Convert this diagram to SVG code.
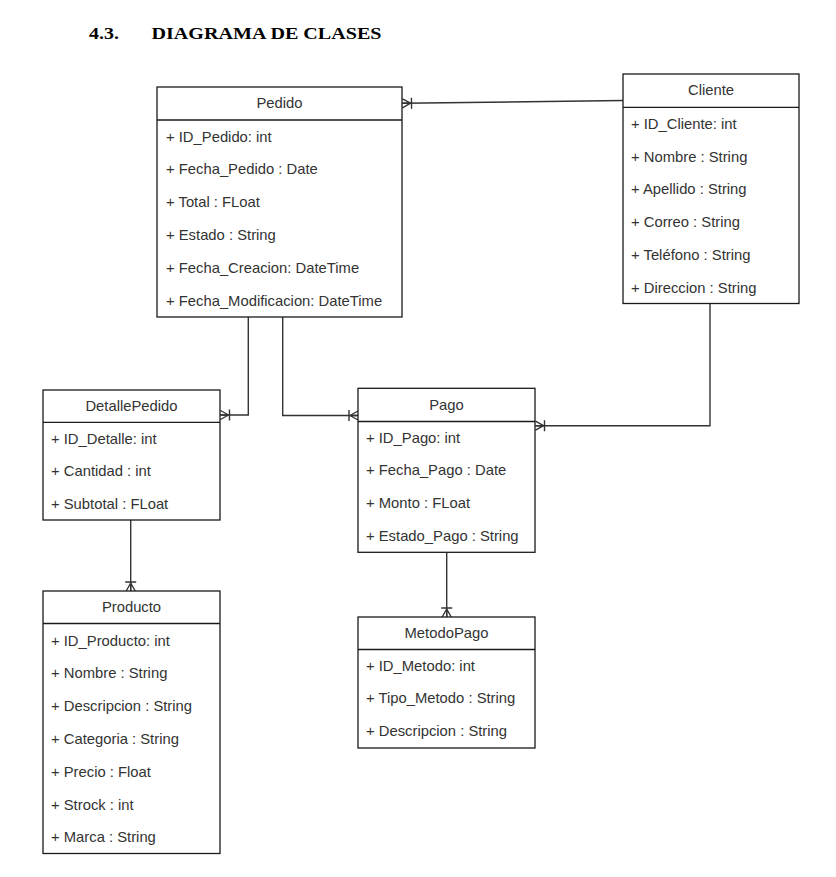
<svg xmlns="http://www.w3.org/2000/svg" width="836" height="877" viewBox="0 0 836 877">
<defs>
<style>
.box{fill:#fff;stroke:#1a1a1a;stroke-width:1.3}
.sep{stroke:#1a1a1a;stroke-width:1.3}
.hd{font-family:"Liberation Sans",Arial,sans-serif;font-size:14.8px;fill:#333;text-anchor:middle}
.at{font-family:"Liberation Sans",Arial,sans-serif;font-size:14.8px;fill:#333}
.title{font-family:"Liberation Serif","Times New Roman",serif;font-size:17px;font-weight:bold;fill:#000}
.conn{fill:none;stroke:#333;stroke-width:1.4;marker-end:url(#er)}
</style>
<marker id="er" viewBox="0 -7 12 14" refX="11" refY="0" markerWidth="12" markerHeight="14" markerUnits="userSpaceOnUse" orient="auto">
<path d="M3,0 L11,-4.5 M3,0 L11,4.5 M3,0 L11,0 M2,-5.5 L2,5.5" fill="none" stroke="#333" stroke-width="1.4"/>
</marker>
</defs>
<rect width="836" height="877" fill="#fff"/>
<g id="title">
<text class="title" x="89" y="39" textLength="30" lengthAdjust="spacingAndGlyphs">4.3.</text>
<text class="title" x="151.5" y="39" textLength="230" lengthAdjust="spacingAndGlyphs">DIAGRAMA DE CLASES</text>
</g>
<g id="connectors">
<path class="conn" d="M623,100.5 L402.5,103.3"/>
<path class="conn" d="M248.3,317 V415 H220.5"/>
<path class="conn" d="M282.7,317 V415.5 H358"/>
<path class="conn" d="M710,303.5 V425.7 H535.5"/>
<path class="conn" d="M130.7,520 V591"/>
<path class="conn" d="M446.7,552.5 V617"/>
</g>
<g id="Pedido">
<rect class="box" x="157" y="87" width="245" height="230"/>
<line class="sep" x1="157" y1="120" x2="402" y2="120"/>
<text class="hd" x="279.5" y="108">Pedido</text>
<text class="at" x="166" y="141.5">+ ID_Pedido: int</text>
<text class="at" x="166" y="174.3">+ Fecha_Pedido : Date</text>
<text class="at" x="166" y="207.1">+ Total : FLoat</text>
<text class="at" x="166" y="239.9">+ Estado : String</text>
<text class="at" x="166" y="272.7">+ Fecha_Creacion: DateTime</text>
<text class="at" x="166" y="305.5">+ Fecha_Modificacion: DateTime</text>
</g>
<g id="Cliente">
<rect class="box" x="623" y="74" width="176" height="229.5"/>
<line class="sep" x1="623" y1="107.3" x2="799" y2="107.3"/>
<text class="hd" x="711" y="95">Cliente</text>
<text class="at" x="631" y="129">+ ID_Cliente: int</text>
<text class="at" x="631" y="161.7">+ Nombre : String</text>
<text class="at" x="631" y="194.4">+ Apellido : String</text>
<text class="at" x="631" y="227.1">+ Correo : String</text>
<text class="at" x="631" y="259.8">+ Teléfono : String</text>
<text class="at" x="631" y="292.5">+ Direccion : String</text>
</g>
<g id="DetallePedido">
<rect class="box" x="43" y="390" width="177" height="130"/>
<line class="sep" x1="43" y1="422.3" x2="220" y2="422.3"/>
<text class="hd" x="131.5" y="411">DetallePedido</text>
<text class="at" x="51" y="443.5">+ ID_Detalle: int</text>
<text class="at" x="51" y="476.1">+ Cantidad : int</text>
<text class="at" x="51" y="508.7">+ Subtotal : FLoat</text>
</g>
<g id="Pago">
<rect class="box" x="358" y="388.3" width="177" height="164"/>
<line class="sep" x1="358" y1="421.5" x2="535" y2="421.5"/>
<text class="hd" x="446.5" y="410">Pago</text>
<text class="at" x="366" y="442.5">+ ID_Pago: int</text>
<text class="at" x="366" y="475.3">+ Fecha_Pago : Date</text>
<text class="at" x="366" y="508.1">+ Monto : FLoat</text>
<text class="at" x="366" y="540.9">+ Estado_Pago : String</text>
</g>
<g id="Producto">
<rect class="box" x="43" y="591" width="177" height="262.5"/>
<line class="sep" x1="43" y1="623.5" x2="220" y2="623.5"/>
<text class="hd" x="131.5" y="612">Producto</text>
<text class="at" x="51" y="645.5">+ ID_Producto: int</text>
<text class="at" x="51" y="678.3">+ Nombre : String</text>
<text class="at" x="51" y="711.1">+ Descripcion : String</text>
<text class="at" x="51" y="743.9">+ Categoria : String</text>
<text class="at" x="51" y="776.7">+ Precio : Float</text>
<text class="at" x="51" y="809.5">+ Strock : int</text>
<text class="at" x="51" y="842.3">+ Marca : String</text>
</g>
<g id="MetodoPago">
<rect class="box" x="358" y="617" width="177" height="131"/>
<line class="sep" x1="358" y1="649.5" x2="535" y2="649.5"/>
<text class="hd" x="446.5" y="638">MetodoPago</text>
<text class="at" x="366" y="670.5">+ ID_Metodo: int</text>
<text class="at" x="366" y="703.2">+ Tipo_Metodo : String</text>
<text class="at" x="366" y="735.9">+ Descripcion : String</text>
</g>
</svg>
